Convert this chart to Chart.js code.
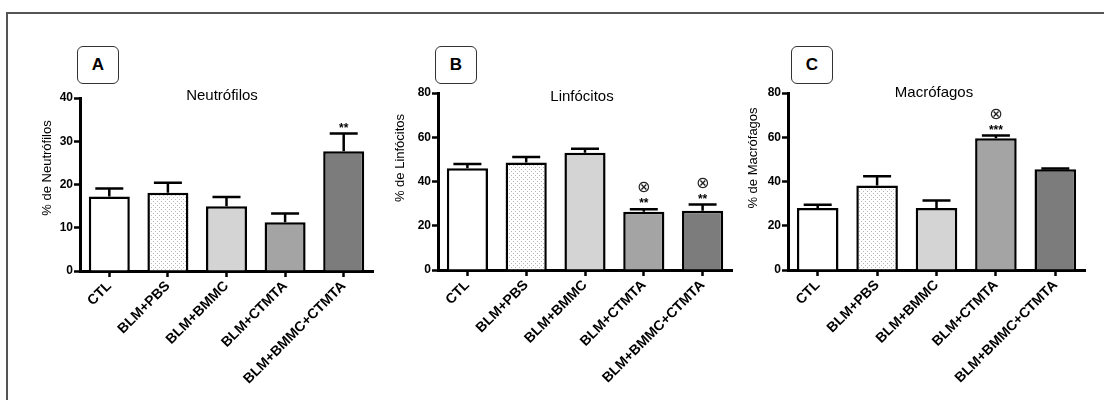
<!DOCTYPE html>
<html>
<head>
<meta charset="utf-8">
<script src="https://cdn.jsdelivr.net/npm/chart.js@4.4.1/dist/chart.umd.min.js"></script>
<style>
  html, body { margin: 0; padding: 0; background: #fff; }
  #wrap { position: relative; width: 1104px; height: 400px; overflow: hidden; background: #fff; }
  #frame { position: absolute; left: 6px; top: 12px; width: 1110px; height: 400px; border-left: 2px solid #555; border-top: 2px solid #555; }
  canvas { position: absolute; top: 0; }
  .tag { position: absolute; width: 40px; height: 36px; border: 1.5px solid #333; border-radius: 6px; font: bold 17px "Liberation Sans", Arial, sans-serif; text-align: center; line-height: 36px; background: #fff; }
</style>
</head>
<body>
<div id="wrap">
  <div id="frame"></div>
  <canvas id="chA" width="380" height="400" style="left:0px"></canvas>
  <canvas id="chB" width="360" height="400" style="left:380px"></canvas>
  <canvas id="chC" width="364" height="400" style="left:740px"></canvas>
  <div class="tag" style="left:77px;top:46px">A</div>
  <div class="tag" style="left:435px;top:46px">B</div>
  <div class="tag" style="left:791px;top:46px">C</div>
</div>
<script>
// groups on the x axis (same for all three panels)
const categories = ['CTL', 'BLM+PBS', 'BLM+BMMC', 'BLM+CTMTA', 'BLM+BMMC+CTMTA']

// A - neutrophils (% mean and SEM)
const neutrofilos     = [17.2, 18.1, 15.0, 11.3, 27.7]
const neutrofilosSem  = [1.9, 2.3, 2.1, 2.0, 4.1]
const neutrofilosStar = ['', '', '', '', '**']
const neutrofilosCirc = [false, false, false, false, false]

// B - lymphocytes
const linfocitos     = [46.0, 48.6, 53.0, 26.3, 26.8]
const linfocitosSem  = [1.9, 2.5, 1.8, 1.2, 2.8]
const linfocitosStar = ['', '', '', '**', '**']
const linfocitosCirc = [false, false, false, true, true]

// C - macrophages
const macrofagos     = [28.0, 38.2, 28.0, 59.6, 45.5]
const macrofagosSem  = [1.5, 4.2, 3.4, 1.2, 0.4]
const macrofagosStar = ['', '', '', '***', '']
const macrofagosCirc = [false, false, false, true, false]

const yTicksA = [0, 10, 20, 30, 40]
const yTicksBC = [0, 20, 40, 60, 80]

const FONT = '"Liberation Sans", Arial, sans-serif'

const dotPattern = () => {
	const c = document.createElement('canvas')
	c.width = 4; c.height = 4
	const x = c.getContext('2d')
	x.fillStyle = '#fff'
	x.fillRect(0, 0, 4, 4)
	x.fillStyle = '#b8b8b8'
	x.fillRect(1, 1, 1, 1)
	x.fillRect(3, 3, 1, 1)
	return x.createPattern(c, 'repeat')
}

const fills = () => ['#ffffff', dotPattern(), '#d4d4d4', '#a4a4a4', '#7c7c7c']

// error bars, significance marks, panel title and y title
const extras = {
	id : 'extras',
	afterDatasetsDraw : (chart, args, opts) => {
		const ctx  = chart.ctx
		const meta = chart.getDatasetMeta(0)
		const ys   = chart.scales.y
		ctx.save()
		meta.data.forEach((bar, i) => {
			const top = ys.getPixelForValue(opts.values[i] + opts.sem[i])
			ctx.strokeStyle = '#000'
			ctx.lineWidth = 2.5
			ctx.beginPath()
			ctx.moveTo(bar.x, bar.y)
			ctx.lineTo(bar.x, top)
			ctx.moveTo(bar.x - 14, top)
			ctx.lineTo(bar.x + 14, top)
			ctx.stroke()
			ctx.fillStyle = '#000'
			ctx.textAlign = 'center'
			ctx.textBaseline = 'middle'
			if ( opts.star[i] !== '' ) {
				ctx.font = `bold 12px ${FONT}`
				ctx.fillText(opts.star[i], bar.x, top - 5)
			}
			if ( opts.circ[i] ) {
				ctx.font = `16px "DejaVu Sans"`
				ctx.fillStyle = '#222'
				ctx.fillText('\u2297', bar.x, top - 21)
			}
		})
		ctx.fillStyle = '#000'
		ctx.font = `15px ${FONT}`
		ctx.textAlign = 'center'
		ctx.textBaseline = 'middle'
		ctx.fillText(opts.title, opts.titleX, opts.titleY)
		ctx.save()
		ctx.translate(opts.yTitleX, opts.yTitleY)
		ctx.rotate(-Math.PI / 2)
		ctx.font = `13px ${FONT}`
		ctx.fillText(opts.yTitle, 0, 0)
		ctx.restore()
		ctx.restore()
	},
}

const makeChart = (id, { values, sem, star, circ, ticks, title, titleX, titleY, yTitle, yTitleX, yTitleY, yWidth, padTop, padRight, xHeight }) => {
	const axisGrid = {
		display         : true,
		drawOnChartArea : false,
		drawTicks       : true,
		offset          : false,
		tickLength      : 6,
		tickWidth       : 2.5,
		tickColor       : '#000',
	}
	return new Chart(document.getElementById(id), {
		type : 'bar',
		data : {
			labels   : categories,
			datasets : [{
				data               : values,
				backgroundColor    : fills(),
				borderColor        : '#000',
				borderWidth        : 2.5,
				borderSkipped      : 'bottom',
				barPercentage      : 0.7,
				categoryPercentage : 1,
			}],
		},
		options : {
			responsive : false,
			animation  : false,
			layout     : { padding : { top : padTop, right : padRight, left : 0, bottom : 0 } },
			plugins    : {
				legend  : { display : false },
				tooltip : { enabled : false },
				extras  : { values, sem, star, circ, title, titleX, titleY, yTitle, yTitleX, yTitleY },
			},
			scales : {
				x : {
					grid     : axisGrid,
					border   : { color : '#000', width : 3 },
					ticks    : { minRotation : 45, maxRotation : 45, padding : 1, color : '#000', font : { family : FONT, size : 14, weight : 'bold' } },
					afterFit : (s) => { s.height = xHeight },
				},
				y : {
					min      : ticks[0],
					max      : ticks[ticks.length - 1],
					grid     : axisGrid,
					border   : { color : '#000', width : 3 },
					ticks    : { stepSize : ticks[1] - ticks[0], padding : 1, color : '#000', font : { family : FONT, size : 12, weight : 'bold' } },
					afterFit : (s) => { s.width = yWidth },
				},
			},
		},
		plugins : [extras],
	})
}

makeChart('chA', {
	values : neutrofilos, sem : neutrofilosSem, star : neutrofilosStar, circ : neutrofilosCirc,
	ticks : yTicksA, title : 'Neutrófilos', titleX : 222, titleY : 96,
	yTitle : '% de Neutrófilos', yTitleX : 47, yTitleY : 168,
	yWidth : 80, padTop : 98, padRight : 7, xHeight : 129,
})
makeChart('chB', {
	values : linfocitos, sem : linfocitosSem, star : linfocitosStar, circ : linfocitosCirc,
	ticks : yTicksBC, title : 'Linfócitos', titleX : 202, titleY : 97,
	yTitle : '% de Linfócitos', yTitleX : 20, yTitleY : 158,
	yWidth : 58, padTop : 93, padRight : 8, xHeight : 130,
})
makeChart('chC', {
	values : macrofagos, sem : macrofagosSem, star : macrofagosStar, circ : macrofagosCirc,
	ticks : yTicksBC, title : 'Macrófagos', titleX : 194, titleY : 93,
	yTitle : '% de Macrófagos', yTitleX : 13, yTitleY : 158,
	yWidth : 48, padTop : 93, padRight : 19, xHeight : 130,
})
</script>
</body>
</html>
